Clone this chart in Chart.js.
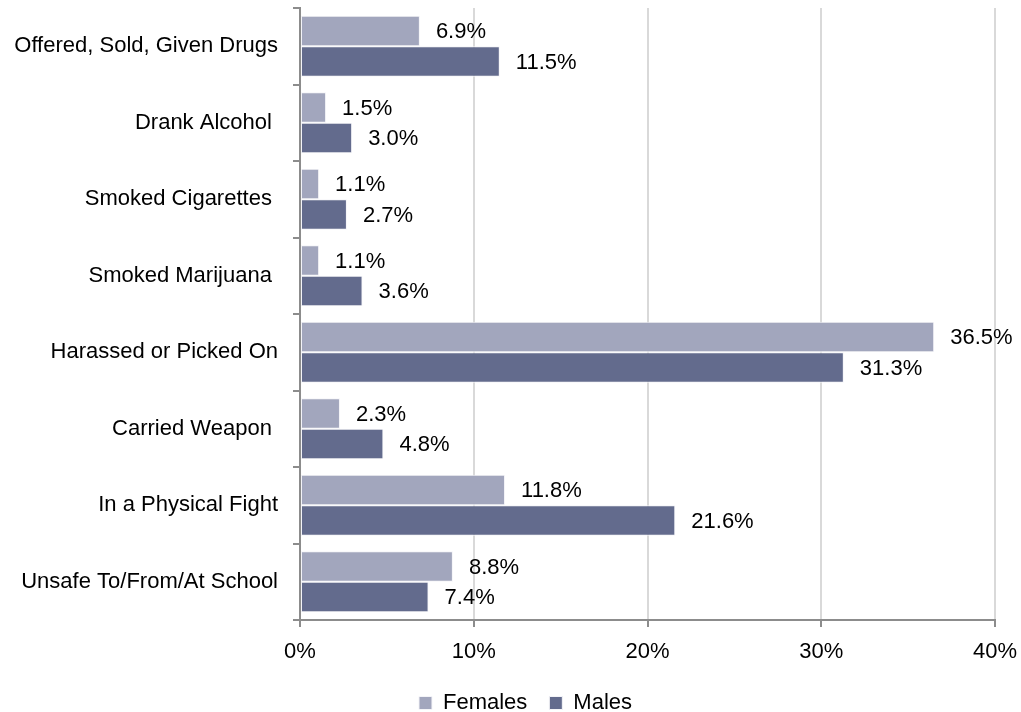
<!DOCTYPE html>
<html>
<head>
<meta charset="utf-8">
<script src="https://cdn.jsdelivr.net/npm/chart.js@4/dist/chart.umd.min.js"></script>
<style>
  html, body { margin: 0; padding: 0; background: #fff; }
  #wrap { width: 1021px; height: 712px; position: relative; }
</style>
</head>
<body>
<div id="wrap"><canvas id="chart"></canvas></div>
<script>
'use strict';

const categories = [
  'Offered, Sold, Given Drugs',
  'Drank Alcohol ',
  'Smoked Cigarettes ',
  'Smoked Marijuana ',
  'Harassed or Picked On',
  'Carried Weapon ',
  'In a Physical Fight',
  'Unsafe To/From/At School'
];
const femalesValues = [6.9, 1.5, 1.1, 1.1, 36.5, 2.3, 11.8, 8.8];
const malesValues = [11.5, 3.0, 2.7, 3.6, 31.3, 4.8, 21.6, 7.4];
const xTicks = [0, 10, 20, 30, 40];

const FONT = "'Liberation Sans', Arial, sans-serif";

// draws the value labels to the right of each bar
const valueLabels = {
  id: 'valueLabels',
  afterDatasetsDraw(chart) {
    const ctx = chart.ctx;
    ctx.save();
    ctx.font = '22px ' + FONT;
    ctx.fillStyle = '#000';
    ctx.textAlign = 'left';
    ctx.textBaseline = 'middle';
    chart.data.datasets.forEach((ds, i) => {
      chart.getDatasetMeta(i).data.forEach((bar, j) => {
        ctx.fillText(ds.data[j].toFixed(1) + '%', bar.x + 16, bar.y + 1);
      });
    });
    ctx.restore();
  }
};

// legend sits a bit right of page centre, under the plot
const legendShift = {
  id: 'legendShift',
  afterLayout(chart) {
    if (!chart.legend) return;
    chart.legend.left += 28;
    chart.legend.right += 28;
  }
};

new Chart(document.getElementById('chart'), {
  type: 'bar',
  data: {
    labels: categories,
    datasets: [
      { label: 'Females', data: femalesValues, backgroundColor: '#a2a6bd', borderColor: '#f4f4f8', borderWidth: 1, borderSkipped: false },
      { label: 'Males', data: malesValues, backgroundColor: '#636b8d', borderColor: '#f4f4f8', borderWidth: 1, borderSkipped: false }
    ]
  },
  options: {
    indexAxis: 'y',
    responsive: true,
    maintainAspectRatio: false,
    animation: false,
    layout: { padding: { top: 8, right: 26, left: 0, bottom: -12 } },
    datasets: { bar: { categoryPercentage: 0.8, barPercentage: 1.0 } },
    plugins: {
      legend: {
        position: 'bottom',
        labels: {
          font: { family: FONT, size: 22 },
          color: '#000',
          boxWidth: 13,
          boxHeight: 13,
          padding: 22
        }
      },
      tooltip: { enabled: false }
    },
    scales: {
      x: {
        min: 0,
        max: 40,
        afterBuildTicks(scale) { scale.ticks = xTicks.map(v => ({ value: v })); },
        afterFit(scale) { scale.height = 50; scale.paddingLeft = 0; scale.paddingRight = 0; },
        ticks: {
          font: { family: FONT, size: 22 },
          color: '#000',
          padding: 12,
          callback: v => v + '%'
        },
        grid: { color: '#d9d9d9', lineWidth: 2, tickColor: '#8c8c8c', tickLength: 7 },
        border: { color: '#8c8c8c', width: 2 }
      },
      y: {
        afterFit(scale) { scale.width = 300; scale.paddingTop = 0; scale.paddingBottom = 0; },
        ticks: {
          font: { family: FONT, size: 22 },
          color: '#000',
          padding: 15
        },
        grid: { offset: true, drawOnChartArea: false, color: '#8c8c8c', lineWidth: 2, tickLength: 7 },
        border: { color: '#8c8c8c', width: 2 }
      }
    }
  },
  plugins: [valueLabels, legendShift]
});
</script>
</body>
</html>
